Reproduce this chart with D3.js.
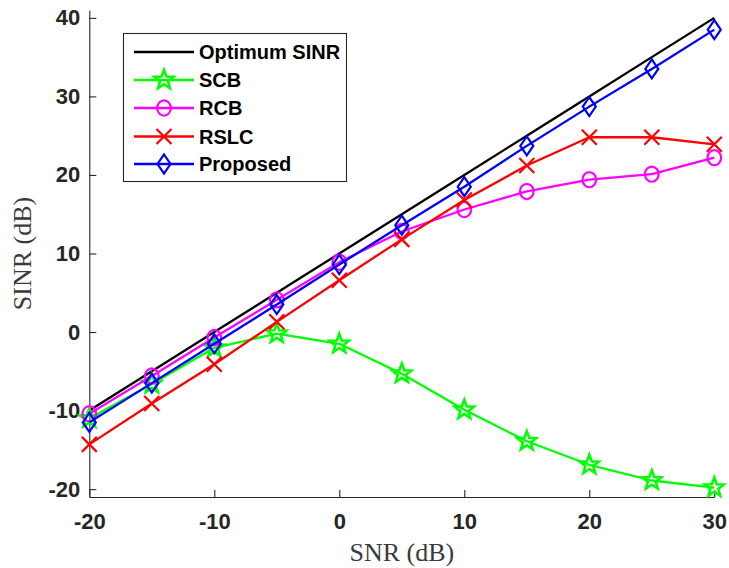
<!DOCTYPE html>
<html>
<head>
<meta charset="utf-8">
<script src="https://cdn.jsdelivr.net/npm/d3@7"></script>
<style>
  html, body { margin: 0; padding: 0; background: #fff; }
  svg { display: block; }
</style>
</head>
<body>
<svg id="chart" width="729" height="568"></svg>
<script>
// SINR versus SNR for several beamformers
const snr = [-20, -15, -10, -5, 0, 5, 10, 15, 20, 25, 30];
const optimum  = [-10, -5, 0, 5, 10, 15, 20, 25, 30, 35, 40];
const scb      = [-11.0, -6.6, -2.0, -0.2, -1.5, -5.3, -9.9, -13.9, -16.9, -18.9, -19.8];
const rcb      = [-10.4, -5.6, -0.7, 4.1, 8.9, 12.8, 15.6, 17.9, 19.4, 20.1, 22.2];
const rslc     = [-14.3, -9.1, -4.1, 1.3, 6.6, 11.8, 16.8, 21.2, 24.8, 24.8, 23.9];
const proposed = [-11.5, -6.5, -1.5, 3.5, 8.6, 13.6, 18.5, 23.7, 28.7, 33.5, 38.5];

const seriesNames = ["Optimum SINR", "SCB", "RCB", "RSLC", "Proposed"];
const seriesData = [optimum, scb, rcb, rslc, proposed];
const seriesColors = ["#000000", "#00ff00", "#ff00ff", "#ff0000", "#0000ff"];
const seriesMarkers = ["none", "star", "circle", "cross", "diamond"];

const xTicks = [-20, -10, 0, 10, 20, 30];
const yTicks = [-20, -10, 0, 10, 20, 30, 40];

const svg = d3.select("#chart");
const plotLeft = 89.3, plotRight = 714.3, plotTop = 10, plotBottom = 497;

const x = d3.scaleLinear().domain([-20, 30]).range([plotLeft, plotRight]);
const y = d3.scaleLinear().domain([-21, 41]).range([plotBottom, plotTop]);

const axisColor = "#262626";
const tickFont = "'Liberation Sans', Arial, Helvetica, sans-serif";
const plainNumber = d => String(d);  // hyphen-minus, as in the printed labels

// Axes (inward ticks, no box)
const xAxis = svg.append("g")
  .attr("transform", `translate(0,${plotBottom})`)
  .call(d3.axisBottom(x).tickValues(xTicks).tickFormat(plainNumber)
    .tickSize(-7).tickSizeOuter(0).tickPadding(16));
const yAxis = svg.append("g")
  .attr("transform", `translate(${plotLeft},0)`)
  .call(d3.axisLeft(y).tickValues(yTicks).tickFormat(plainNumber)
    .tickSize(-7).tickSizeOuter(0).tickPadding(9));

[xAxis, yAxis].forEach(g => {
  g.select(".domain").attr("stroke", axisColor).attr("stroke-width", 1.1);
  g.selectAll(".tick line").attr("stroke", axisColor).attr("stroke-width", 1.1);
  g.selectAll(".tick text")
    .attr("fill", axisColor)
    .style("font-family", tickFont)
    .style("font-weight", "bold")
    .style("font-size", "22px");
});
xAxis.selectAll(".tick text").attr("dy", "0.71em");

// Axis titles
svg.append("text")
  .attr("x", (plotLeft + plotRight) / 2)
  .attr("y", 561)
  .attr("text-anchor", "middle")
  .style("font-family", "'Liberation Serif', 'Times New Roman', serif")
  .style("font-size", "26px")
  .attr("fill", "#3a3a3a")
  .text("SNR (dB)");

svg.append("text")
  .attr("transform", `translate(31,${(plotTop + plotBottom) / 2}) rotate(-90)`)
  .attr("text-anchor", "middle")
  .style("font-family", "'Liberation Serif', 'Times New Roman', serif")
  .style("font-size", "26px")
  .attr("fill", "#3a3a3a")
  .text("SINR (dB)");

// Marker outlines centred on (cx, cy)
function drawMarker(g, kind, cx, cy, color) {
  const common = s => s.attr("fill", "none").attr("stroke", color)
    .attr("stroke-width", kind === "star" ? 2.6 : 2.2).attr("stroke-linejoin", "miter");
  if (kind === "circle") {
    common(g.append("ellipse").attr("cx", cx).attr("cy", cy).attr("rx", 6.8).attr("ry", 7.6));
  } else if (kind === "diamond") {
    const p = d3.path();
    p.moveTo(cx, cy - 9.5); p.lineTo(cx + 6.5, cy); p.lineTo(cx, cy + 9.5); p.lineTo(cx - 6.5, cy); p.closePath();
    common(g.append("path").attr("d", p.toString()));
  } else if (kind === "cross") {
    const p = d3.path();
    p.moveTo(cx - 7.5, cy - 7.5); p.lineTo(cx + 7.5, cy + 7.5);
    p.moveTo(cx + 7.5, cy - 7.5); p.lineTo(cx - 7.5, cy + 7.5);
    common(g.append("path").attr("d", p.toString()));
  } else if (kind === "star") {
    const p = d3.path();
    const ro = 10, ri = 4.2;
    for (let i = 0; i < 10; i++) {
      const a = -Math.PI / 2 + i * Math.PI / 5;
      const r = i % 2 === 0 ? ro : ri;
      const px = cx + r * Math.cos(a), py = cy + r * Math.sin(a);
      if (i === 0) p.moveTo(px, py); else p.lineTo(px, py);
    }
    p.closePath();
    common(g.append("path").attr("d", p.toString()));
  }
}

// Series lines and markers
const line = d3.line().x((d, i) => x(snr[i])).y(d => y(d));
seriesData.forEach((vals, k) => {
  const g = svg.append("g");
  g.append("path")
    .attr("d", line(vals))
    .attr("fill", "none")
    .attr("stroke", seriesColors[k])
    .attr("stroke-width", 2.3)
    .attr("stroke-linejoin", "round");
  if (seriesMarkers[k] !== "none") {
    vals.forEach((v, i) => drawMarker(g, seriesMarkers[k], x(snr[i]), y(v), seriesColors[k]));
  }
});

// Legend
const lg = svg.append("g");
lg.append("rect")
  .attr("x", 123.5).attr("y", 33.5).attr("width", 223).attr("height", 148)
  .attr("fill", "#fff").attr("stroke", axisColor).attr("stroke-width", 1.1);
const rowY = [52, 80, 108, 136.5, 164];
seriesNames.forEach((name, k) => {
  const ry = rowY[k];
  lg.append("line")
    .attr("x1", 134).attr("x2", 194).attr("y1", ry).attr("y2", ry)
    .attr("stroke", seriesColors[k]).attr("stroke-width", 2.3);
  if (seriesMarkers[k] !== "none") drawMarker(lg, seriesMarkers[k], 164, ry, seriesColors[k]);
  lg.append("text")
    .attr("x", 199).attr("y", ry).attr("dy", "0.36em")
    .style("font-family", tickFont)
    .style("font-weight", "bold")
    .style("font-size", "20px")
    .attr("fill", "#000")
    .text(name);
});
</script>
</body>
</html>
